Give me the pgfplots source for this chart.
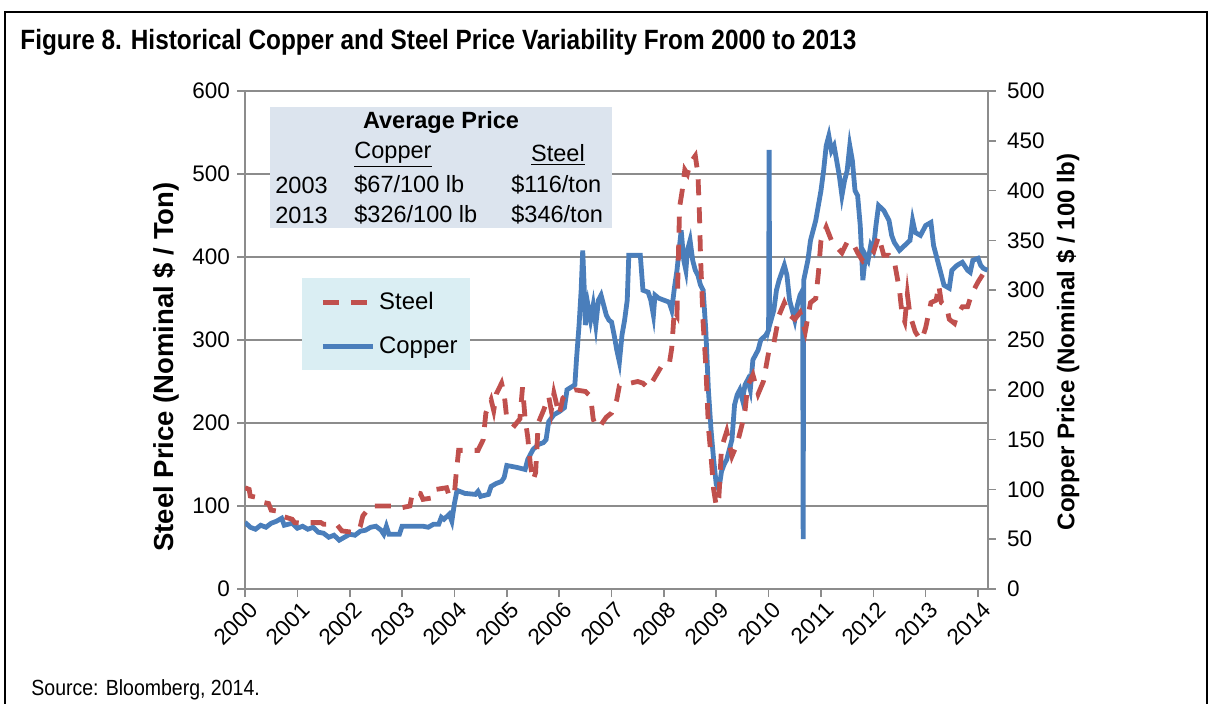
\documentclass[border=0pt]{standalone}
\usepackage{pgfplots}
\pgfplotsset{compat=1.18}
\usepackage{fontspec}
\setmainfont{Liberation Sans}
\newfontfamily\narrowfont{Liberation Sans}[FakeStretch=0.873]
\newfontfamily\srcfont{Liberation Sans}[FakeStretch=0.89]
\definecolor{cu}{HTML}{4A7EBB}
\definecolor{st}{HTML}{C0504D}
\definecolor{gridc}{HTML}{8C8C8C}
\definecolor{tabfill}{HTML}{DCE4EE}
\definecolor{legfill}{HTML}{DAEEF3}
\pgfplotsset{
  base/.style={width=371.5bp,height=249bp,scale only axis,at={(0,0)},anchor=south west,
    xmin=2000,xmax=2014.19,
    /pgf/number format/assume math mode=true,
    /pgf/number format/1000 sep={},
    tick label style={font=\fontsize{11.3}{13}\selectfont},
    axis line style={gridc,line width=0.8bp},
    tick style={gridc,line width=0.8bp},
    tick align=outside, major tick length=4bp},
  custeel/.style={st,line width=2.4bp,dash pattern=on 8bp off 6bp},
  cucopper/.style={cu,line width=2.4bp},
}
\begin{document}
\begin{tikzpicture}
\useasboundingbox (-122.5bp,-57.5bp) rectangle (483.5bp,294.5bp);
% frame
\draw[line width=1.2bp] (-120bp,-60bp) -- (-120bp,288.5bp) -- (481bp,288.5bp) -- (481bp,-60bp);
\node[anchor=west,inner sep=0pt,font=\fontsize{14}{16}\selectfont\narrowfont\bfseries] at (-112.5bp,273.5bp) {Figure 8. Historical Copper and Steel Price Variability From 2000 to 2013};
\node[anchor=west,inner sep=0pt,font=\fontsize{11}{13}\selectfont\srcfont] at (-107bp,-50.5bp) {Source: Bloomberg, 2014.};
% axis A: left axis, grid, x axis
\begin{axis}[base,ymin=0,ymax=600,ytick={0,100,...,600},xtick={2000,2001,...,2014},
  axis x line*=bottom, axis y line*=left, ymajorgrids,
  grid style={gridc,line width=0.8bp},
  xticklabel style={rotate=45,anchor=north east,inner sep=0pt,yshift=-2bp},
  ylabel={Steel Price (Nominal \$ / Ton)},
  ylabel style={at={(axis description cs:-0.106,0.446)},anchor=center,rotate=0,font=\fontsize{13.8}{15}\selectfont\bfseries}]
\addplot[draw=none] coordinates {(2000,0)};
\end{axis}
% table box
\fill[tabfill] (12.5bp,180.5bp) rectangle (183.5bp,241bp);
\begin{scope}[every node/.style={font=\fontsize{11.8}{13}\selectfont,inner sep=0pt}]
\node[font=\fontsize{11.8}{13}\selectfont\bfseries] at (98bp,233.5bp) {Average Price};
\node at (74bp,217bp) {\underline{Copper}};
\node at (156.5bp,217bp) {\underline{Steel}};
\node[anchor=west] at (15bp,202bp) {2003};
\node[anchor=west] at (54.5bp,202bp) {\$67/100 lb};
\node[anchor=west] at (133bp,202bp) {\$116/ton};
\node[anchor=west] at (15bp,187bp) {2013};
\node[anchor=west] at (54.5bp,187bp) {\$326/100 lb};
\node[anchor=west] at (133bp,187bp) {\$346/ton};
\end{scope}
% axis B: copper, right axis
\begin{axis}[base,ymin=0,ymax=500,ytick={0,50,...,500},
  axis y line*=right, axis x line=none,
  yticklabel style={xshift=2bp},
  ylabel={Copper Price (Nominal \$ / 100 lb)},
  ylabel style={at={(axis description cs:1.1077,0.496)},anchor=center,rotate=0,font=\fontsize{12.1}{14}\selectfont\bfseries}]
\addplot[cucopper] coordinates {
(2000.00,67)(2000.10,62)(2000.20,60)(2000.30,64)(2000.40,62)(2000.50,66)(2000.60,68)(2000.70,71)(2000.75,64)(2000.90,66)
(2001.00,61)(2001.10,63)(2001.20,60)(2001.30,62)(2001.40,57)(2001.50,56)(2001.60,52)(2001.70,54)(2001.80,49)(2001.90,52)
(2002.00,55)(2002.10,54)(2002.20,58)(2002.30,59)(2002.40,62)(2002.50,63)(2002.60,59)(2002.65,55)(2002.70,63)(2002.75,55)
(2002.95,55)(2003.00,63)(2003.40,63)(2003.50,62)(2003.60,65)(2003.70,65)(2003.75,72)(2003.80,70)(2003.90,75)(2003.95,68)
(2004.00,86)(2004.05,99)(2004.20,96)(2004.40,95)(2004.45,98)(2004.50,93)(2004.65,95)(2004.70,103)(2004.80,106)(2004.90,108)
(2004.95,112)(2005.00,124)(2005.20,122)(2005.35,120)(2005.40,130)(2005.50,140)(2005.60,145)(2005.70,147)(2005.75,150)(2005.80,168)
(2005.90,175)(2006.00,178)(2006.10,182)(2006.15,200)(2006.30,205)(2006.33,230)(2006.38,265)(2006.42,300)(2006.45,340)(2006.48,300)
(2006.50,265)(2006.55,285)(2006.60,270)(2006.65,285)(2006.70,265)(2006.75,290)(2006.80,295)(2006.85,285)(2006.90,275)(2006.95,270)
(2007.00,268)(2007.05,255)(2007.10,240)(2007.15,228)(2007.20,255)(2007.25,270)(2007.30,290)(2007.33,335)(2007.55,335)(2007.60,300)
(2007.70,298)(2007.75,290)(2007.80,275)(2007.83,295)(2007.90,292)(2008.00,290)(2008.10,288)(2008.15,280)(2008.20,302)(2008.25,320)
(2008.30,345)(2008.33,360)(2008.38,330)(2008.42,320)(2008.45,340)(2008.50,350)(2008.55,330)(2008.60,320)(2008.65,315)(2008.70,305)
(2008.75,300)(2008.80,260)(2008.85,200)(2008.90,160)(2008.95,130)(2009.00,105)(2009.05,100)(2009.10,118)(2009.15,125)(2009.20,130)
(2009.25,140)(2009.30,150)(2009.35,185)(2009.40,195)(2009.45,200)(2009.50,190)(2009.55,205)(2009.60,210)(2009.65,200)(2009.70,230)
(2009.80,240)(2009.85,250)(2009.95,255)(2010.00,260)(2010.01,441)(2010.02,265)(2010.10,280)(2010.15,300)(2010.20,310)(2010.30,325)
(2010.35,315)(2010.40,290)(2010.45,280)(2010.50,270)(2010.55,285)(2010.60,295)(2010.65,300)(2010.66,50)(2010.67,310)(2010.75,330)
(2010.80,350)(2010.90,370)(2011.00,400)(2011.05,420)(2011.10,445)(2011.15,455)(2011.20,440)(2011.25,445)(2011.30,430)(2011.35,415)
(2011.40,395)(2011.45,410)(2011.50,420)(2011.55,445)(2011.60,430)(2011.65,400)(2011.70,395)(2011.75,365)(2011.80,310)(2011.85,335)
(2011.90,330)(2011.95,345)(2012.00,340)(2012.05,365)(2012.10,385)(2012.20,380)(2012.30,370)(2012.35,355)(2012.40,348)(2012.50,340)
(2012.60,345)(2012.70,350)(2012.75,370)(2012.80,358)(2012.90,355)(2013.00,365)(2013.10,368)(2013.15,345)(2013.20,335)(2013.30,315)
(2013.35,305)(2013.45,302)(2013.50,320)(2013.60,325)(2013.70,328)(2013.80,320)(2013.85,318)(2013.90,330)(2014.00,332)(2014.05,325)
(2014.10,322)(2014.18,320)
};
\end{axis}
% axis C: steel + legend
\begin{axis}[base,ymin=0,ymax=600,hide axis,
  legend style={at={(axis description cs:0.0767,0.6245)},anchor=north west,fill=legfill,draw=none,
    inner xsep=4bp,inner ysep=5bp,row sep=8bp,font=\fontsize{12}{14}\selectfont},
  legend cell align=left,
  legend image code/.code={\path (0bp,0bp); \draw[#1] (5bp,0bp) -- (30bp,0bp);}]
\addplot[custeel] coordinates {
(2000.00,122)(2000.08,120)(2000.10,112)(2000.25,110)(2000.30,105)(2000.45,103)(2000.50,95)(2000.70,93)(2000.75,87)(2000.90,84)
(2000.95,80)(2001.15,79)(2001.20,80)(2001.45,80)(2001.50,78)(2001.75,78)(2001.85,70)(2002.10,68)(2002.20,75)(2002.25,88)
(2002.40,100)(2002.90,100)(2003.00,98)(2003.15,100)(2003.20,117)(2003.35,115)(2003.40,108)(2003.60,110)(2003.65,120)(2003.85,122)
(2003.90,112)(2004.00,115)(2004.03,137)(2004.08,167)(2004.45,167)(2004.55,180)(2004.60,212)(2004.70,228)(2004.75,215)(2004.80,235)
(2004.90,248)(2004.95,235)(2005.00,205)(2005.15,197)(2005.25,205)(2005.30,243)(2005.35,205)(2005.40,183)(2005.45,150)(2005.50,131)
(2005.55,140)(2005.60,200)(2005.70,215)(2005.80,232)(2005.85,215)(2005.90,236)(2006.00,210)(2006.07,230)(2006.20,237)(2006.30,240)
(2006.50,238)(2006.60,232)(2006.65,205)(2006.70,195)(2006.80,198)(2006.90,207)(2007.00,212)(2007.10,228)(2007.15,245)(2007.50,250)
(2007.60,248)(2007.70,242)(2007.80,252)(2007.95,268)(2008.10,270)(2008.15,290)(2008.20,336)(2008.25,330)(2008.30,460)(2008.35,480)
(2008.40,505)(2008.45,500)(2008.50,513)(2008.60,522)(2008.65,500)(2008.68,450)(2008.70,400)(2008.75,320)(2008.80,270)(2008.85,195)
(2008.90,160)(2008.95,120)(2009.00,100)(2009.05,110)(2009.10,170)(2009.20,190)(2009.30,160)(2009.40,175)(2009.50,200)(2009.55,215)
(2009.60,245)(2009.70,258)(2009.80,235)(2009.90,250)(2010.00,285)(2010.10,296)(2010.20,330)(2010.30,345)(2010.40,330)(2010.50,325)
(2010.60,333)(2010.70,310)(2010.80,345)(2010.90,350)(2010.95,380)(2011.00,420)(2011.10,436)(2011.20,420)(2011.30,412)(2011.40,405)
(2011.50,418)(2011.60,418)(2011.70,405)(2011.80,395)(2011.90,400)(2012.00,405)(2012.10,425)(2012.20,402)(2012.30,402)(2012.40,395)
(2012.50,360)(2012.55,330)(2012.60,322)(2012.65,355)(2012.70,330)(2012.80,310)(2012.90,300)(2012.95,305)(2013.00,315)(2013.10,345)
(2013.20,348)(2013.25,366)(2013.30,345)(2013.40,340)(2013.45,325)(2013.55,320)(2013.60,330)(2013.70,340)(2013.80,340)(2013.85,350)
(2013.90,358)(2014.00,370)(2014.10,380)(2014.18,382)
};
\addlegendentry{Steel}
\addlegendimage{cucopper}
\addlegendentry{Copper}
\end{axis}
\end{tikzpicture}
\end{document}
